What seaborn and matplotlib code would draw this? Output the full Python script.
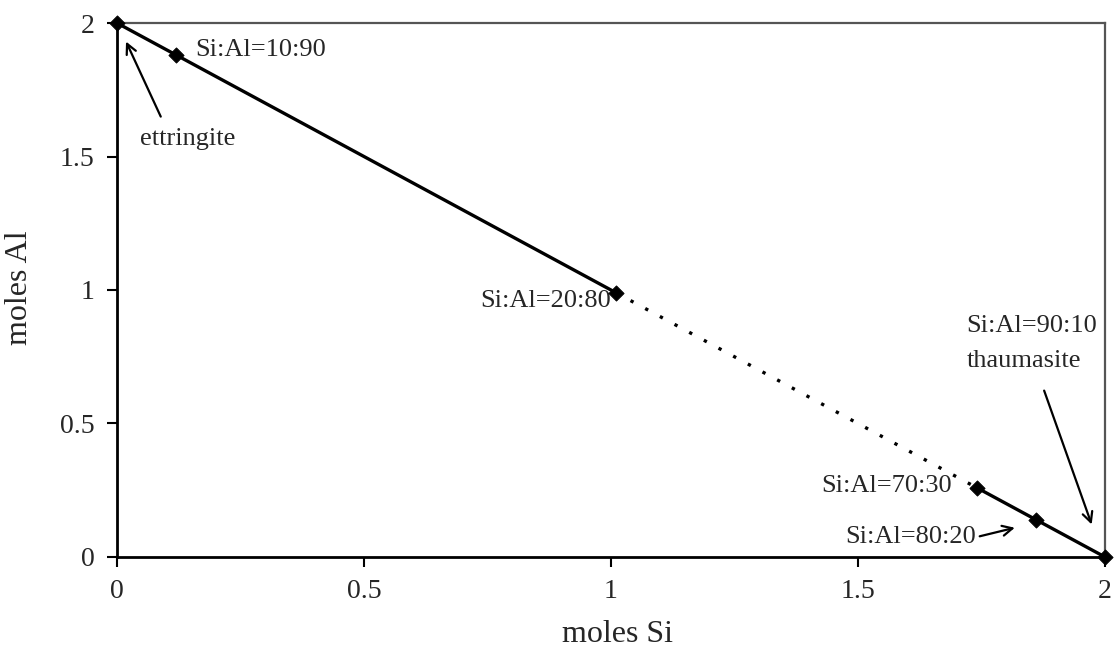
import matplotlib
matplotlib.use("Agg")
import matplotlib.pyplot as plt
import seaborn as sns
import pandas as pd

# Composition points along the Si + Al = 2 join
si_moles = [0.0, 0.12, 1.01, 1.74, 1.86, 2.0]
al_moles = [2.0, 1.88, 0.99, 0.26, 0.14, 0.0]
segment = ["a", "a", "a", "c", "c", "c"]

ticks = [0, 0.5, 1, 1.5, 2]
tick_labels = ["0", "0.5", "1", "1.5", "2"]

df = pd.DataFrame({"si": si_moles, "al": al_moles, "segment": segment})
gap = pd.DataFrame({"si": si_moles[2:4], "al": al_moles[2:4]})

sns.set_style("white")
plt.rcParams["font.family"] = ["Liberation Serif", "DejaVu Serif"]
plt.rcParams["font.size"] = 19

fig = plt.figure(figsize=(11.16, 6.5), dpi=100)
ax = fig.add_axes([0.1048, 0.1431, 0.9901 - 0.1048, 0.9646 - 0.1431])

# solid stretches
for seg in ["a", "c"]:
    sub = df[df["segment"] == seg]
    sns.lineplot(data=sub, x="si", y="al", ax=ax, color="black", lw=2.4,
                 sort=False, estimator=None)
# dotted stretch between 20:80 and 70:30
sns.lineplot(data=gap, x="si", y="al", ax=ax, color="black", lw=2.4,
             linestyle=(0, (1, 4)), sort=False, estimator=None)

sns.scatterplot(data=df, x="si", y="al", ax=ax, marker="D", s=60,
                color="black", edgecolor="black", zorder=5, clip_on=False)

ax.set_xlim(0, 2)
ax.set_ylim(0, 2)
ax.set_xticks(ticks)
ax.set_xticklabels(tick_labels)
ax.set_yticks(ticks)
ax.set_yticklabels(tick_labels)
ax.tick_params(axis="both", direction="out", length=7, width=1.5,
               labelsize=20, color="black", pad=9,
               bottom=True, left=True)

for side in ["left", "bottom"]:
    ax.spines[side].set_color("black")
    ax.spines[side].set_linewidth(2)
for side in ["top", "right"]:
    ax.spines[side].set_color("#555555")
    ax.spines[side].set_linewidth(1.6)

ax.set_xlabel("moles Si", fontsize=23)
ax.set_ylabel("moles Al", fontsize=23)
ax.xaxis.set_label_coords(0.507, -0.118)
ax.yaxis.set_label_coords(-0.084, 0.505)

arrow = dict(arrowstyle="->", color="black", lw=1.6, mutation_scale=18)

ax.text(0.158, 1.898, "Si:Al=10:90", fontsize=19, va="center", ha="left")
ax.text(1.0, 0.96, "Si:Al=20:80", fontsize=19, va="center", ha="right")
ax.text(1.69, 0.265, "Si:Al=70:30", fontsize=19, va="center", ha="right")
ax.text(1.738, 0.075, "Si:Al=80:20", fontsize=19, va="center", ha="right")
ax.text(1.72, 0.865, "Si:Al=90:10", fontsize=19, va="center", ha="left")
ax.text(1.72, 0.735, "thaumasite", fontsize=19, va="center", ha="left")
ax.text(0.046, 1.565, "ettringite", fontsize=19, va="center", ha="left")

ax.annotate("", xy=(0.016, 1.94), xytext=(0.091, 1.64), arrowprops=arrow)
ax.annotate("", xy=(1.823, 0.112), xytext=(1.741, 0.075), arrowprops=arrow)
ax.annotate("", xy=(1.975, 0.112), xytext=(1.875, 0.633), arrowprops=arrow)

fig.savefig("out.png", dpi=100)
